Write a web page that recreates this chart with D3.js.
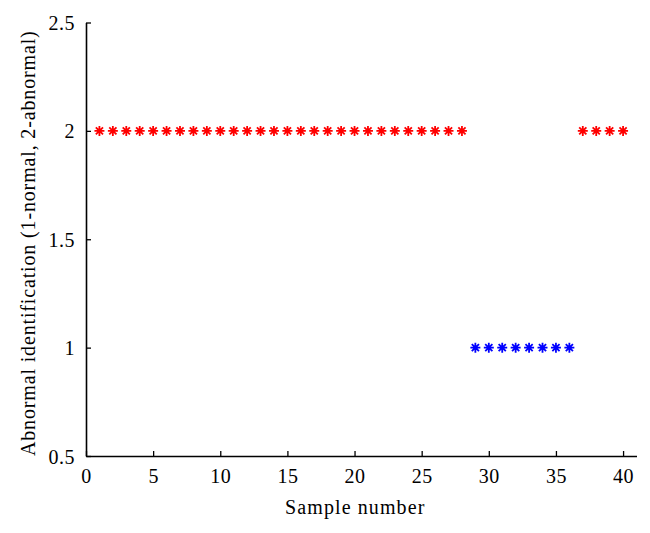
<!DOCTYPE html>
<html><head><meta charset="utf-8">
<script src="https://cdn.jsdelivr.net/npm/d3@7"></script>
<style>body{margin:0;background:#fff}svg{display:block}</style>
</head><body>
<svg id="c" width="650" height="533"></svg>
<script>
const sampleIndex = d3.range(1, 41);
const identification = [2,2,2,2,2,2,2,2,2,2,2,2,2,2,2,2,2,2,2,2,2,2,2,2,2,2,2,2,1,1,1,1,1,1,1,1,2,2,2,2];
const xTicks = [0,5,10,15,20,25,30,35,40];
const yTicks = [0.5,1,1.5,2,2.5];
const xTitle = "Sample number";
const yTitle = "Abnormal identification (1-normal, 2-abnormal)";

const svg = d3.select("#c");
const font = "'Liberation Serif','DejaVu Serif',serif";
const x = d3.scaleLinear().domain([0,41]).range([86,636.5]);
const y = d3.scaleLinear().domain([0.5,2.5]).range([456,22.5]);

const xa = svg.append("g").attr("transform",`translate(0,${y(0.5)})`)
  .call(d3.axisBottom(x).tickValues(xTicks).tickSizeInner(-5).tickSizeOuter(0).tickPadding(11).tickFormat(d3.format("d")));
const ya = svg.append("g").attr("transform",`translate(${x(0)},0)`)
  .call(d3.axisLeft(y).tickValues(yTicks).tickSizeInner(-5).tickSizeOuter(0).tickPadding(11).tickFormat(d=>String(d)));
[xa,ya].forEach(a=>{
  a.selectAll("path").attr("stroke","#000").attr("stroke-width",1.6);
  a.selectAll("line").attr("stroke","#000").attr("stroke-width",1.3);
  a.selectAll("text").attr("font-family",font).attr("font-size",20).attr("letter-spacing","0.5px").attr("fill","#000");
});
xa.selectAll("text").attr("dy","0.8em");
ya.selectAll("text").attr("dy","0.35em");

const r = 5, rd = 3.6;
const star = `M${-r},0L${r},0M0,${-r}L0,${r}M${-rd},${-rd}L${rd},${rd}M${-rd},${rd}L${rd},${-rd}`;
svg.append("g").selectAll("path").data(sampleIndex).join("path")
  .attr("transform",(d,i)=>`translate(${x(d)},${y(identification[i])})`)
  .attr("d",star)
  .attr("fill","none")
  .attr("stroke",(d,i)=>identification[i]===2?"#ff0000":"#0000ff")
  .attr("stroke-width",1.8);

svg.append("text").attr("x",(x(0)+x(41))/2-6).attr("y",514).attr("text-anchor","middle")
  .attr("font-family",font).attr("font-size",20).attr("letter-spacing","1.1px").text(xTitle);
svg.append("text").attr("transform",`translate(35,${(y(0.5)+y(2.5))/2+4}) rotate(-90)`)
  .attr("text-anchor","middle").attr("font-family",font).attr("font-size",20).attr("letter-spacing","0.85px").text(yTitle);
</script>
</body></html>
